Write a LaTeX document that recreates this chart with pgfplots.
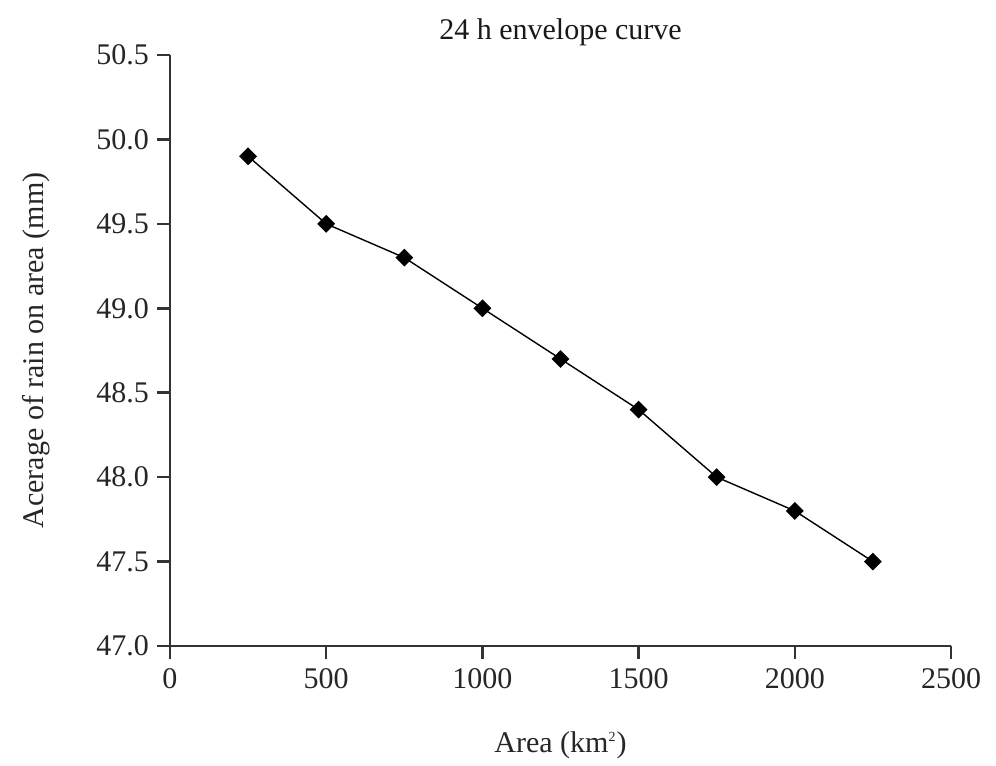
\documentclass[border=0pt]{standalone}
\usepackage{pgfplots}
\pgfplotsset{compat=1.18}
\usepackage{fontspec}
\setmainfont{Liberation Serif}
\begin{document}
\begin{tikzpicture}
\begin{axis}[
  scale only axis,
  width=390.5pt, height=295.5pt,
  xmin=0, xmax=2500, ymin=47.0, ymax=50.5,
  axis lines*=left,
  axis line style={line width=1.3pt, draw=black!80},
  xtick={0,500,1000,1500,2000,2500},
  ytick={47.0,47.5,48.0,48.5,49.0,49.5,50.0,50.5},
  yticklabel style={/pgf/number format/fixed, /pgf/number format/fixed zerofill, /pgf/number format/precision=1, xshift=-0.5pt},
  xticklabel style={/pgf/number format/set thousands separator={}, yshift=-1pt},
  /pgf/number format/assume math mode=true,
  tick style={line width=1.3pt, draw=black!80},
  tick align=outside,
  major tick length=6.5pt,
  ticklabel style={font=\fontsize{15}{17}\selectfont, text=black!85},
  title={24 h envelope curve},
  title style={font=\fontsize{15}{17}\selectfont, text=black!90, at={(0.5,1)}, anchor=center, yshift=5.5pt},
  xlabel={Area (km\textsuperscript{\scriptsize 2})},
  ylabel={Acerage of rain on area (mm)},
  label style={font=\fontsize{15}{17}\selectfont, text=black!85},
  xlabel style={at={(0.5,0)}, anchor=center, yshift=-49.5pt},
  ylabel style={at={(0,0.5)}, anchor=center, yshift=67pt},
  clip=false,
]
\addplot[black, line width=0.7pt, mark=square*, mark size=2.8pt, mark options={rotate=45, fill=black}]
coordinates {(250,49.9) (500,49.5) (750,49.3) (1000,49.0) (1250,48.7) (1500,48.4) (1750,48.0) (2000,47.8) (2250,47.5)};
\end{axis}
\path[use as bounding box] ([xshift=-85pt,yshift=-59pt]current axis.south west) rectangle ([xshift=22.5pt,yshift=27.5pt]current axis.north east);
\end{tikzpicture}
\end{document}
